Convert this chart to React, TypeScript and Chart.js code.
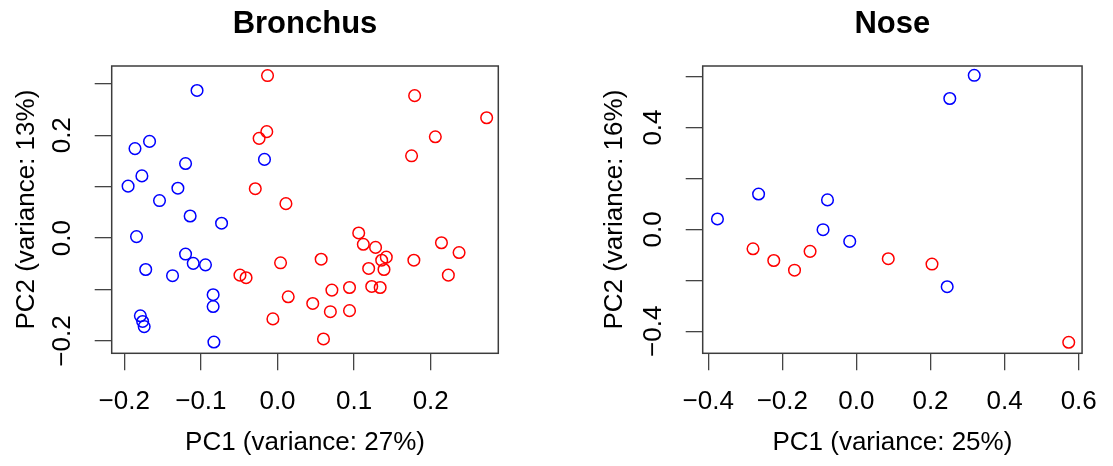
import React, { useEffect, useRef } from "react";
import { Chart, registerables } from "chart.js";

Chart.register(...registerables);

// ---------- Data ----------
const bronchusBlueX = [-0.105, -0.186, -0.167, -0.120, -0.177, -0.195, -0.130, -0.154, -0.114, -0.073, -0.184, -0.017, -0.120, -0.110, -0.094, -0.172, -0.137, -0.084, -0.084, -0.179, -0.176, -0.174, -0.083];
const bronchusBlueY = [0.287, 0.174, 0.188, 0.145, 0.121, 0.101, 0.097, 0.073, 0.043, 0.029, 0.003, 0.153, -0.031, -0.049, -0.052, -0.061, -0.073, -0.110, -0.133, -0.151, -0.162, -0.172, -0.202];
const bronchusRedX = [-0.013, 0.179, 0.273, -0.014, -0.024, 0.206, 0.175, -0.029, 0.011, 0.106, 0.112, 0.128, 0.214, 0.237, 0.142, 0.136, 0.139, 0.119, 0.178, 0.057, 0.004, 0.223, -0.049, -0.041, 0.123, 0.134, 0.094, 0.071, 0.014, 0.046, 0.069, 0.094, -0.006, 0.060];
const bronchusRedY = [0.316, 0.277, 0.234, 0.207, 0.194, 0.197, 0.160, 0.096, 0.067, 0.010, -0.012, -0.018, -0.009, -0.028, -0.037, -0.043, -0.061, -0.059, -0.043, -0.041, -0.048, -0.072, -0.072, -0.077, -0.094, -0.096, -0.096, -0.101, -0.114, -0.127, -0.143, -0.141, -0.157, -0.196];

const noseBlueX = [0.318, 0.252, -0.264, -0.078, -0.375, -0.090, -0.018, 0.245];
const noseBlueY = [0.605, 0.514, 0.139, 0.116, 0.041, -0.001, -0.047, -0.225];
const noseRedX = [-0.279, -0.223, -0.167, -0.125, 0.086, 0.204, 0.573];
const noseRedY = [-0.076, -0.122, -0.160, -0.086, -0.115, -0.136, -0.443];

const FONT = '"Liberation Sans", Arial, Helvetica, sans-serif';

function fmt(v: number): string {
  const r = Math.round(v * 10) / 10;
  const s = Math.abs(r).toFixed(1);
  return r < 0 ? "\u2212" + s : s;
}

function toPoints(xs: number[], ys: number[]) {
  return xs.map((x, i) => ({ x, y: ys[i] }));
}

type PanelProps = {
  title: string;
  xLabel: string;
  yLabel: string;
  blueX: number[];
  blueY: number[];
  redX: number[];
  redY: number[];
  xMin: number;
  xMax: number;
  xStep: number;
  yMin: number;
  yMax: number;
  yStep: number;
  yLabelEvery: number;
  width: number;
  padLeft: number;
  padRight: number;
  yAxisWidth: number;
  yTitlePad: number;
  left: number;
};

function Panel(p: PanelProps) {
  const ref = useRef<HTMLCanvasElement | null>(null);

  useEffect(() => {
    if (!ref.current) return;
    const framePlugin = {
      id: "frameAndTitle",
      afterDraw(chart: any) {
        const { ctx, chartArea } = chart;
        ctx.save();
        ctx.strokeStyle = "#3c3c3c";
        ctx.lineWidth = 1.5;
        ctx.strokeRect(
          chartArea.left,
          chartArea.top,
          chartArea.right - chartArea.left,
          chartArea.bottom - chartArea.top
        );
        ctx.fillStyle = "#000";
        ctx.font = `bold 31px ${FONT}`;
        ctx.textAlign = "center";
        ctx.textBaseline = "alphabetic";
        ctx.fillText(p.title, (chartArea.left + chartArea.right) / 2, 33);
        ctx.restore();
      },
    };

    const tickFont = { size: 26, family: FONT };
    const chart = new Chart(ref.current, {
      type: "scatter",
      data: {
        datasets: [
          {
            data: toPoints(p.blueX, p.blueY),
            borderColor: "#0000ff",
            backgroundColor: "rgba(0,0,0,0)",
            pointRadius: 5.8,
            pointHoverRadius: 5.8,
            pointBorderWidth: 1.5,
          },
          {
            data: toPoints(p.redX, p.redY),
            borderColor: "#ff0000",
            backgroundColor: "rgba(0,0,0,0)",
            pointRadius: 5.8,
            pointHoverRadius: 5.8,
            pointBorderWidth: 1.5,
          },
        ],
      },
      options: {
        responsive: false,
        animation: false,
        events: [],
        layout: { padding: { left: p.padLeft, right: p.padRight, top: 66, bottom: 0 } },
        plugins: {
          legend: { display: false },
          tooltip: { enabled: false },
          title: { display: false },
        },
        scales: {
          x: {
            type: "linear",
            position: "bottom",
            min: p.xMin,
            max: p.xMax,
            border: { display: false },
            grid: { drawOnChartArea: false, drawTicks: true, tickLength: 17, color: "#444", lineWidth: 1.3 },
            ticks: {
              stepSize: p.xStep,
              includeBounds: false,
              autoSkip: false,
              maxRotation: 0,
              minRotation: 0,
              color: "#000",
              font: tickFont,
              padding: 16,
              callback: (v: any) => fmt(Number(v)),
            },
            title: {
              display: true,
              text: p.xLabel,
              color: "#000",
              font: tickFont,
              padding: { top: 0, bottom: 8 },
            },
            afterFit: (s: any) => {
              s.height = 112.7;
            },
          },
          y: {
            type: "linear",
            position: "left",
            min: p.yMin,
            max: p.yMax,
            border: { display: false },
            grid: { drawOnChartArea: false, drawTicks: true, tickLength: 17, color: "#444", lineWidth: 1.3 },
            ticks: {
              stepSize: p.yStep,
              includeBounds: false,
              autoSkip: false,
              minRotation: 90,
              maxRotation: 90,
              crossAlign: "center",
              color: "#000",
              font: tickFont,
              padding: 6,
              callback: (v: any) => {
                const n = Number(v);
                const k = Math.round(n / p.yLabelEvery * 1000) / 1000;
                return Math.abs(k - Math.round(k)) < 1e-6 ? fmt(n) : "";
              },
            },
            title: {
              display: true,
              text: p.yLabel,
              color: "#000",
              font: tickFont,
              padding: { top: p.yTitlePad, bottom: 0 },
            },
            afterFit: (s: any) => {
              s.width = p.yAxisWidth;
            },
          },
        },
      } as any,
      plugins: [framePlugin],
    });
    return () => chart.destroy();
  }, []);

  return (
    <canvas
      ref={ref}
      width={p.width}
      height={466}
      style={{ position: "absolute", left: p.left, top: 0, display: "block" }}
    />
  );
}

export default function App() {
  return (
    <div style={{ position: "absolute", left: 0, top: 0, width: 1113, height: 466, background: "#fff" }}>
      <Panel
        title="Bronchus"
        xLabel="PC1 (variance: 27%)"
        yLabel="PC2 (variance: 13%)"
        blueX={bronchusBlueX}
        blueY={bronchusBlueY}
        redX={bronchusRedX}
        redY={bronchusRedY}
        xMin={-0.2164}
        xMax={0.2882}
        xStep={0.1}
        yMin={-0.2239}
        yMax={0.3346}
        yStep={0.1}
        yLabelEvery={0.2}
        width={556}
        padLeft={0}
        padRight={57.7}
        yAxisWidth={111.7}
        yTitlePad={11}
        left={0}
      />
      <Panel
        title="Nose"
        xLabel="PC1 (variance: 25%)"
        yLabel="PC2 (variance: 16%)"
        blueX={noseBlueX}
        blueY={noseBlueY}
        redX={noseRedX}
        redY={noseRedY}
        xMin={-0.4148}
        xMax={0.609}
        xStep={0.2}
        yMin={-0.4863}
        yMax={0.6416}
        yStep={0.2}
        yLabelEvery={0.4}
        width={557}
        padLeft={35}
        padRight={22.3}
        yAxisWidth={111.7}
        yTitlePad={8.4}
        left={556}
      />
    </div>
  );
}
